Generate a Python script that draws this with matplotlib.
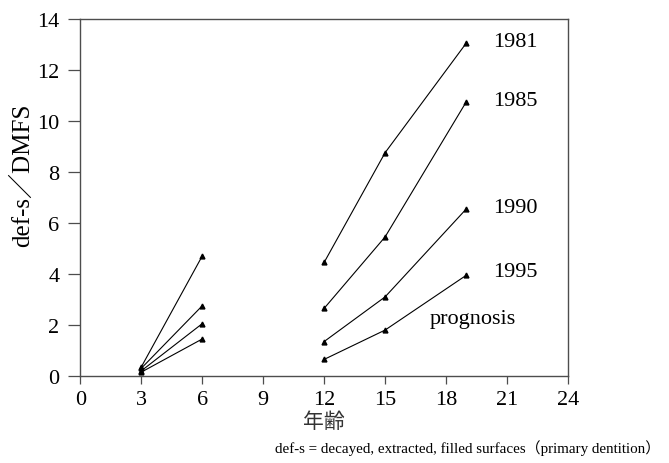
import matplotlib
matplotlib.use("Agg")
import matplotlib.pyplot as plt

# ages and def-s/DMFS values per birth cohort
ages_young = [3, 6]
ages_old = [12, 15, 19]
cohorts = ["1981", "1985", "1990", "1995"]
young_vals = {
    "1981": [0.35, 4.7],
    "1985": [0.3, 2.75],
    "1990": [0.2, 2.05],
    "1995": [0.15, 1.45],
}
old_vals = {
    "1981": [4.45, 8.75, 13.05],
    "1985": [2.65, 5.45, 10.75],
    "1990": [1.35, 3.1, 6.55],
    "1995": [0.65, 1.8, 3.95],
}
label_y = {"1981": 13.1, "1985": 10.8, "1990": 6.6, "1995": 4.1}
xticks = [0, 3, 6, 9, 12, 15, 18, 21, 24]
yticks = [0, 2, 4, 6, 8, 10, 12, 14]

serif = ["Liberation Serif", "Noto Sans CJK JP"]
plt.rcParams["font.family"] = serif

fig = plt.figure(figsize=(6.69, 4.64), dpi=100)
ax = fig.add_axes([0.12, 0.1875, 0.729, 0.77])

for c in cohorts:
    ax.plot(ages_young, young_vals[c], color="black", lw=0.8, marker="^", ms=3.5)
    ax.plot(ages_old, old_vals[c], color="black", lw=0.8, marker="^", ms=3.5)
    ax.text(20.3, label_y[c], c, fontsize=16, va="center", ha="left")
ax.text(17.2, 2.25, "prognosis", fontsize=16, va="center", ha="left")

ax.set_xlim(0, 24)
ax.set_ylim(0, 14)
ax.set_xticks(xticks)
ax.set_yticks(yticks)
ax.tick_params(axis="x", direction="out", length=6, width=0.9, pad=4,
               labelsize=16, color="0.3")
ax.tick_params(axis="y", direction="out", length=9, width=0.9, pad=6,
               labelsize=16, color="0.3")
for s in ax.spines.values():
    s.set_linewidth(1.0)
    s.set_color("0.3")

ax.set_xlabel("年齢", fontsize=15, family=["Noto Sans CJK JP"], labelpad=1,
              color="0.2")
ax.set_ylabel("def-s／DMFS", fontsize=18)
ax.yaxis.set_label_coords(-0.094, 0.565)

fig.text(0.987, 0.018, "def-s = decayed, extracted, filled surfaces（primary dentition）",
         fontsize=10.8, ha="right", va="bottom", family=serif)

fig.savefig("out.png", dpi=100)
